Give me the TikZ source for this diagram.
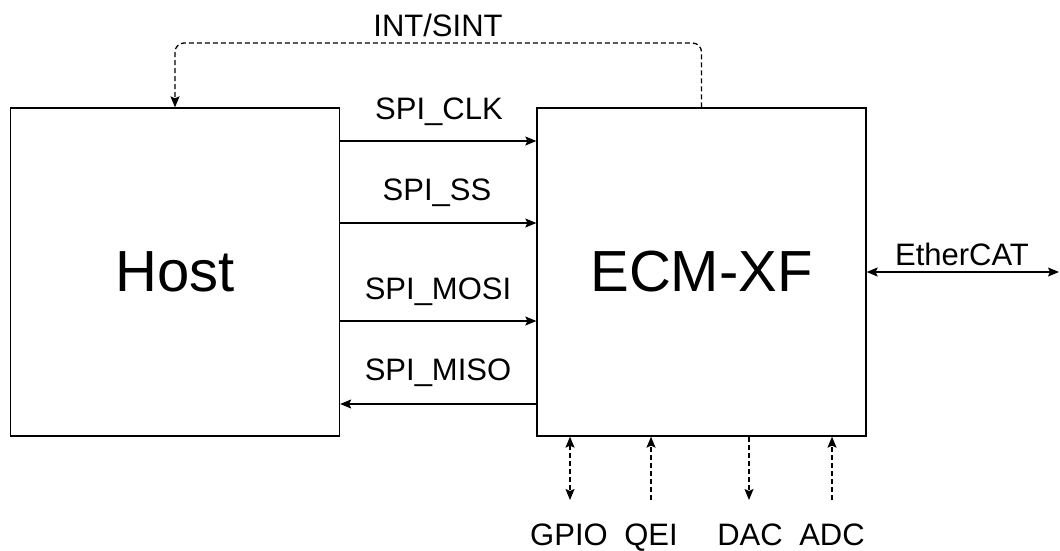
\documentclass[tikz,border=0pt]{standalone}
\usepackage{fontspec}
\setmainfont{Liberation Sans}
\usetikzlibrary{arrows.meta}
\begin{document}
\begin{tikzpicture}[x=1pt,y=-1pt,
  box/.style={draw, line width=1.3pt, minimum width=329pt, minimum height=328pt, inner sep=0pt, font=\fontsize{58}{62}\selectfont},
  lbl/.style={inner sep=0pt, anchor=base, font=\fontsize{31}{34}\selectfont},
  sig/.style={line width=1.3pt, -{Stealth[length=11pt,width=9pt,inset=2pt]}},
  dsh/.style={line width=1.3pt, dash pattern=on 5pt off 3pt},
  tip/.style={-{Stealth[length=11pt,width=9pt,inset=2pt]}},
  tips/.style={{Stealth[length=11pt,width=9pt,inset=2pt]}-{Stealth[length=11pt,width=9pt,inset=2pt]}}
]
\useasboundingbox (0,0) rectangle (1060,550);
\node[box] (host) at (175,272) {Host};
\node[box] (ecm) at (701.5,272) {ECM-XF};
% y levels
\coordinate (y1) at (0,141);
\coordinate (y2) at (0,223);
\coordinate (y3) at (0,321);
\coordinate (y4) at (0,404);
\coordinate (top) at (0,43);
\draw[sig] (host.east |- y1) -- (ecm.west |- y1);
\draw[sig] (host.east |- y2) -- (ecm.west |- y2);
\draw[sig] (host.east |- y3) -- (ecm.west |- y3);
\draw[sig] (ecm.west |- y4) -- (host.east |- y4);
\node[lbl] (lclk) at (439,119) {SPI\_CLK};
\node[lbl] (lss) at (437,200) {SPI\_SS};
\node[lbl] (lmosi) at (438,299) {SPI\_MOSI};
\node[lbl] (lmiso) at (438,380) {SPI\_MISO};
% interrupt
\draw[dsh, tip, rounded corners=9pt] (ecm.north) -- (ecm.north |- top) -- (host.north |- top) -- (host.north);
\node[lbl] (lint) at (438,36) {INT/SINT};
% EtherCAT
\coordinate (eth) at (1059,272);
\draw[line width=1.3pt, tips] (ecm.east) -- (eth);
\node[lbl] (leth) at (962,265) {EtherCAT};
% bottom
\coordinate (gpio) at (570,500);
\coordinate (qei) at (651,500);
\coordinate (dac) at (749,500);
\coordinate (adc) at (832,500);
\draw[dsh, tips] (ecm.south -| gpio) -- (gpio);
\draw[dsh, tip] (qei) -- (ecm.south -| qei);
\draw[dsh, tip] (ecm.south -| dac) -- (dac);
\draw[dsh, tip] (adc) -- (ecm.south -| adc);
\node[lbl] (lgpio) at (569,545) {GPIO};
\node[lbl] (lqei) at (651,545) {QEI};
\node[lbl] (ldac) at (750,545) {DAC};
\node[lbl] (ladc) at (832,545) {ADC};
\end{tikzpicture}
\end{document}
